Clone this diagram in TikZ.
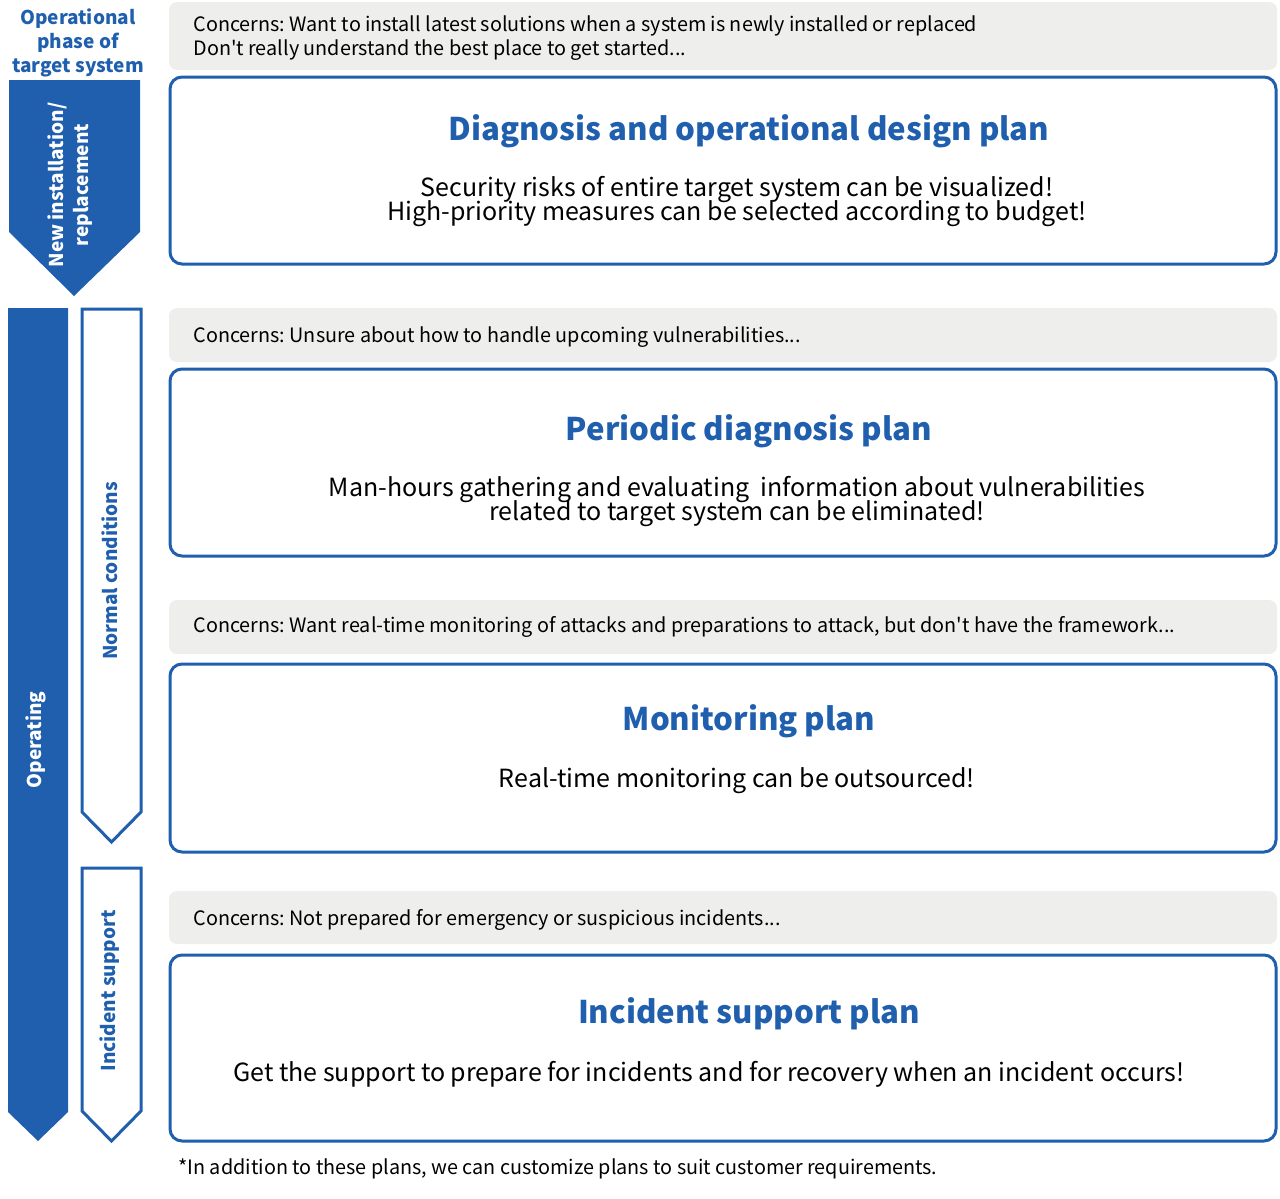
\documentclass[tikz,border=0pt]{standalone}
\usepackage{fontspec}
\setmainfont{Noto Sans CJK JP}[Ligatures=TeXOff]
\definecolor{myblue}{HTML}{1F5FAD}
\definecolor{mygray}{HTML}{EEEEEC}
\begin{document}
\frenchspacing
\lineskiplimit=-20pt\relax
\lineskip=0pt\relax
\begin{tikzpicture}[x=0.5pt,y=-0.5pt,
  concern/.style={fill=mygray,rounded corners=4pt},
  planbox/.style={draw=myblue,line width=1.5pt,rounded corners=6pt,fill=white},
  ctext/.style={anchor=west,font=\fontsize{9.9}{12}\selectfont,inner sep=0pt},
  title/.style={font=\fontsize{15.6}{18}\selectfont\bfseries,text=myblue,inner sep=0pt},
  body/.style={font=\fontsize{12.5}{12}\selectfont,align=center,inner sep=0pt},
  vlabel/.style={font=\fontsize{9.5}{12.5}\selectfont\bfseries,rotate=90,align=center,inner sep=0pt}
]
\useasboundingbox (0,0) rectangle (1280,1199);
% left header
\node[font=\fontsize{9.5}{12}\selectfont\bfseries,text=myblue,align=center,inner sep=0pt] (hdr) at (78,43) {Operational\\phase of\\target system};
% phase arrows
\fill[myblue] (9,80) -- (140,80) -- (140,232) -- (74,296) -- (9,232) -- cycle;
\node[vlabel,text=white] (newinst) at (70,185) {New installation/\\replacement};
\fill[myblue] (8,308) -- (68,308) -- (68,1112) -- (38,1141) -- (8,1112) -- cycle;
\node[vlabel,text=white] (oper) at (36,740) {Operating};
\draw[myblue,line width=1.5pt] (82,309) -- (141,309) -- (141,812) -- (111.5,842) -- (82,812) -- cycle;
\node[vlabel,text=myblue] (normal) at (110,571) {Normal conditions};
\draw[myblue,line width=1.5pt] (82,868) -- (141,868) -- (141,1111) -- (111.5,1141) -- (82,1111) -- cycle;
\node[vlabel,text=myblue] (incid) at (110,991) {Incident support};
% concern boxes
\fill[concern] (169,2) rectangle (1277,70);
\node[ctext] (c1a) at (193,26) {Concerns: Want to install latest solutions when a system is newly installed or replaced};
\node[ctext] (c1b) at (193,50) {Don't really understand the best place to get started...};
\fill[concern] (169,308) rectangle (1277,362);
\node[ctext] (c2) at (193,337) {Concerns: Unsure about how to handle upcoming vulnerabilities...};
\fill[concern] (169,600) rectangle (1277,654);
\node[ctext] (c3) at (193,627) {Concerns: Want real-time monitoring of attacks and preparations to attack, but don't have the framework...};
\fill[concern] (169,891) rectangle (1277,944);
\node[ctext] (c4) at (193,920) {Concerns: Not prepared for emergency or suspicious incidents...};
% plan boxes
\draw[planbox] (170,77) rectangle (1276,264);
\node[title] (t1) at (749,131) {Diagnosis and operational design plan};
\node[body] (b1) at (737,202) {Security risks of entire target system can be visualized!\\High-priority measures can be selected according to budget!};
\draw[planbox] (170,369) rectangle (1276,556);
\node[title] (t2) at (749,431) {Periodic diagnosis plan};
\node[body] (b2) at (737,502) {Man-hours gathering and evaluating\ \ information about vulnerabilities\\related to target system can be eliminated!};
\draw[planbox] (170,664) rectangle (1276,852);
\node[title] (t3) at (749,721) {Monitoring plan};
\node[body] (b3) at (737,781) {Real-time monitoring can be outsourced!};
\draw[planbox] (170,955) rectangle (1276,1141);
\node[title] (t4) at (749,1014) {Incident support plan};
\node[body] (b4) at (709,1074) {Get the support to prepare for incidents and for recovery when an incident occurs!};
% footnote
\node[ctext] (foot) at (178,1169) {*In addition to these plans, we can customize plans to suit customer requirements.};
\end{tikzpicture}
\end{document}
